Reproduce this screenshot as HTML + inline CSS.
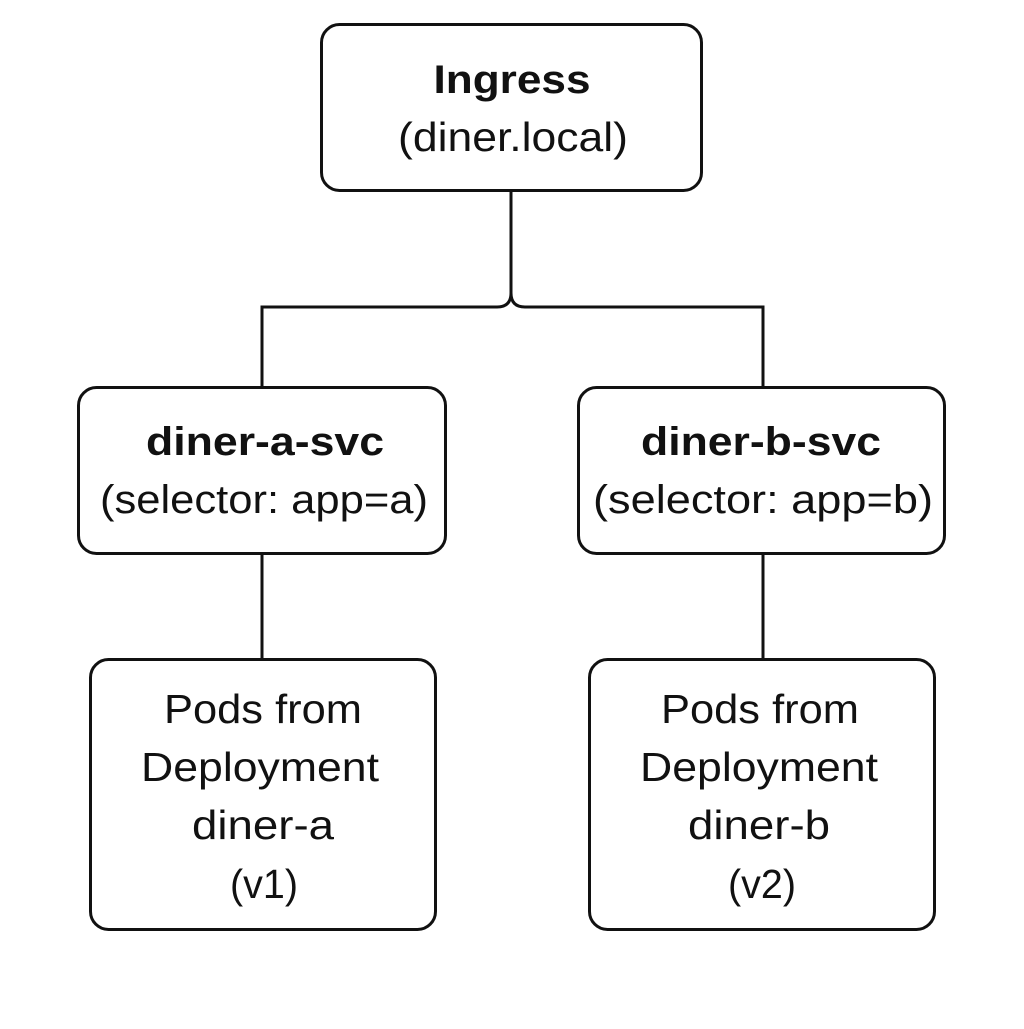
<!DOCTYPE html>
<html><head><style>
html,body{margin:0;padding:0;background:#fff;}
svg text{font-family:"Liberation Sans",sans-serif;fill:#111;text-anchor:middle;}
</style></head><body>
<svg width="1024" height="1024" viewBox="0 0 1024 1024" xmlns="http://www.w3.org/2000/svg">
<g fill="none" stroke="#111" stroke-width="3">
<rect x="321.5" y="24.5" width="380" height="166" rx="18"/>
<rect x="78.5" y="387.5" width="367" height="166" rx="18"/>
<rect x="578.5" y="387.5" width="366" height="166" rx="18"/>
<rect x="90.5" y="659.5" width="345" height="270" rx="18"/>
<rect x="589.5" y="659.5" width="345" height="270" rx="18"/>
<path d="M511 191 V293 Q511 307 497 307 H262 V387"/>
<path d="M511 293 Q511 307 525 307 H763 V387"/>
<path d="M262 553 V659"/>
<path d="M763 553 V659"/>
</g>
<g lengthAdjust="spacingAndGlyphs">
<text x="512" y="93" font-size="40" font-weight="bold" textLength="157" lengthAdjust="spacingAndGlyphs">Ingress</text>
<text x="513" y="151" font-size="41" textLength="230" lengthAdjust="spacingAndGlyphs">(diner.local)</text>
<text x="265" y="455" font-size="40" font-weight="bold" textLength="238" lengthAdjust="spacingAndGlyphs">diner-a-svc</text>
<text x="264" y="513" font-size="40" textLength="328" lengthAdjust="spacingAndGlyphs">(selector: app=a)</text>
<text x="761" y="455" font-size="40" font-weight="bold" textLength="240" lengthAdjust="spacingAndGlyphs">diner-b-svc</text>
<text x="763" y="513" font-size="40" textLength="340" lengthAdjust="spacingAndGlyphs">(selector: app=b)</text>
<text x="263" y="723" font-size="41" textLength="198" lengthAdjust="spacingAndGlyphs">Pods from</text>
<text x="260" y="781" font-size="41" textLength="238" lengthAdjust="spacingAndGlyphs">Deployment</text>
<text x="263" y="839" font-size="41" textLength="142" lengthAdjust="spacingAndGlyphs">diner-a</text>
<text x="264" y="898" font-size="41" textLength="68" lengthAdjust="spacingAndGlyphs">(v1)</text>
<text x="760" y="723" font-size="41" textLength="198" lengthAdjust="spacingAndGlyphs">Pods from</text>
<text x="759" y="781" font-size="41" textLength="238" lengthAdjust="spacingAndGlyphs">Deployment</text>
<text x="759" y="839" font-size="41" textLength="142" lengthAdjust="spacingAndGlyphs">diner-b</text>
<text x="762" y="898" font-size="41" textLength="68" lengthAdjust="spacingAndGlyphs">(v2)</text>
</g>
</svg>
</body></html>
